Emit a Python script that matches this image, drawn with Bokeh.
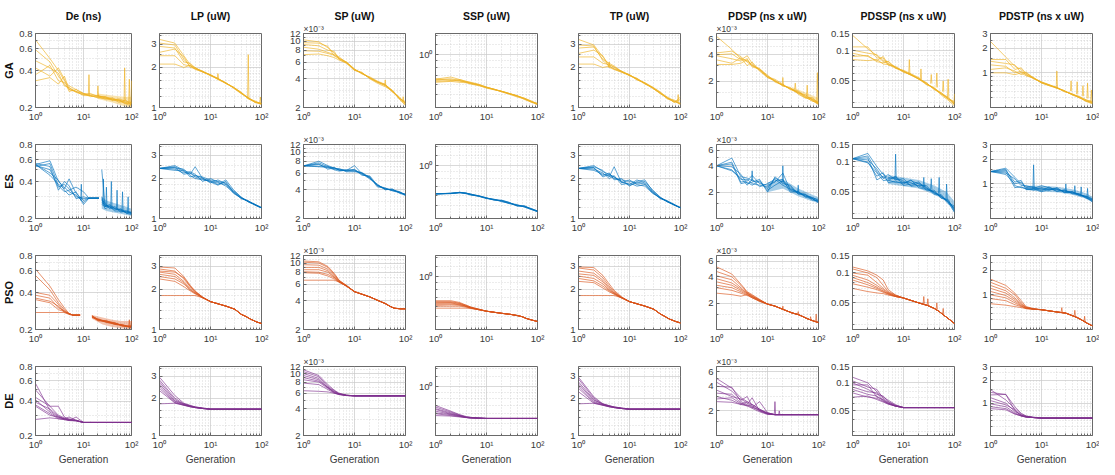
from bokeh.plotting import figure
from bokeh.layouts import gridplot
from bokeh.models import FixedTicker, CustomJSTickFormatter, Title
from bokeh.embed import file_html
from bokeh.resources import INLINE

nan = float("nan")
FONT = "Liberation Sans"

ALGOS = ["GA", "ES", "PSO", "DE"]
METRICS = ["De (ns)", "LP (uW)", "SP (uW)", "SSP (uW)", "TP (uW)",
           "PDSP (ns x uW)", "PDSSP (ns x uW)", "PDSTP (ns x uW)"]
COLORS = ["#EDB120", "#0072BD", "#D95319", "#7E2F8E"]

X_TICKS = [1, 10, 100]
X_TICK_LABELS = ["10⁰", "10¹", "10²"]
X_MINOR = [2, 3, 4, 5, 6, 7, 8, 9, 20, 30, 40, 50, 60, 70, 80, 90]

# SP and PDSP values are stored in units of 1e-3
Y_RANGES = [(0.2, 0.8), (1, 3.6), (2, 12), (0.4, 1.45), (1, 3.6), (1, 7), (0.027, 0.15), (0.38, 3)]
Y_TICKS = [[0.2, 0.4, 0.6, 0.8], [1, 2, 3], [2, 4, 6, 8, 10, 12], [1], [1, 2, 3],
           [2, 4, 6], [0.05, 0.1, 0.15], [1, 2, 3]]
Y_TICK_LABELS = [["0.2", "0.4", "0.6", "0.8"], ["1", "2", "3"], ["2", "4", "6", "8", "10", "12"],
                 ["10⁰"], ["1", "2", "3"], ["2", "4", "6"], ["0.05", "0.1", "0.15"], ["1", "2", "3"]]
Y_MINOR = [[0.3, 0.5, 0.7], [1.2, 1.4, 1.6, 1.8, 2.5, 3.5], [3, 5, 7, 9, 11],
           [0.5, 0.6, 0.7, 0.8, 0.9, 1.2, 1.4], [1.2, 1.4, 1.6, 1.8, 2.5, 3.5],
           [1.5, 3, 5], [0.03, 0.04, 0.06, 0.07, 0.08, 0.09], [0.5, 0.6, 0.7, 0.8, 0.9, 1.5, 2.5]]
Y_EXPONENT = ["", "", "×10⁻³", "", "", "×10⁻³", "", ""]

# generation grids
X_A = [1, 2, 3, 4, 5, 7, 10, 14, 20, 28, 40, 55, 75, 100]
X_E = [1, 2, 3, 4, 5, 7, 10]
X_T = [14, 20, 30, 40, 50, 60, 80, 100]

# ---------------- GA ----------------
GA_DE = [
    [0.71, 0.50, 0.40, 0.33, 0.30, 0.28, 0.26, 0.255, 0.25, 0.24, 0.235, 0.23, 0.22, 0.21],
    [0.59, 0.47, 0.36, 0.31, 0.28, 0.27, 0.255, 0.26, 0.245, 0.245, 0.23, 0.235, 0.225, 0.22],
    [0.48, 0.42, 0.38, 0.30, 0.29, 0.27, 0.25, 0.25, 0.24, 0.235, 0.24, 0.225, 0.215, 0.205],
    [0.42, 0.36, 0.42, 0.34, 0.27, 0.28, 0.26, 0.245, 0.25, 0.24, 0.23, 0.23, 0.22, 0.215],
    [0.37, 0.44, 0.33, 0.32, 0.29, 0.265, 0.255, 0.25, 0.24, 0.245, 0.235, 0.22, 0.23, 0.21],
    [0.33, 0.35, 0.31, 0.36, 0.28, 0.27, 0.26, 0.25, 0.245, 0.235, 0.23, 0.23, 0.215, 0.22]]
GA_DE_SPIKES = ([13, 20, 72, 90, 100], [0.255, 0.245, 0.225, 0.22, 0.21], [0.37, 0.30, 0.42, 0.34, 0.33])
GA_DE_BAND = ([20, 40, 70, 100], [0.235, 0.22, 0.205, 0.2], [0.26, 0.25, 0.245, 0.245])

GA_LP = [
    [3.25, 3.05, 2.45, 2.1, 1.98, 1.88, 1.75, 1.65, 1.52, 1.42, 1.30, 1.18, 1.10, 1.06],
    [3.05, 2.95, 2.3, 2.05, 1.95, 1.85, 1.74, 1.63, 1.53, 1.41, 1.28, 1.17, 1.09, 1.07],
    [2.88, 2.8, 2.2, 2.15, 1.99, 1.86, 1.76, 1.66, 1.51, 1.43, 1.29, 1.16, 1.11, 1.05],
    [2.6, 2.75, 2.4, 2.0, 1.96, 1.87, 1.73, 1.64, 1.54, 1.40, 1.27, 1.19, 1.10, 1.08],
    [2.45, 2.45, 2.1, 2.05, 2.0, 1.84, 1.77, 1.62, 1.52, 1.42, 1.30, 1.17, 1.12, 1.06],
    [2.12, 2.12, 2.0, 2.08, 1.93, 1.86, 1.75, 1.65, 1.53, 1.41, 1.28, 1.18, 1.09, 1.07]]
GA_LP_SPIKES = ([55, 14, 95], [1.17, 1.65, 1.07], [2.5, 1.8, 1.2])

GA_SP = [
    [10.3, 9.8, 8.5, 7.5, 6.6, 5.9, 5.0, 4.6, 4.1, 3.7, 3.4, 3.0, 2.5, 2.15],
    [9.6, 9.5, 8.8, 7.0, 6.5, 6.0, 5.1, 4.5, 4.2, 3.8, 3.5, 2.9, 2.6, 2.2],
    [9.2, 8.9, 8.0, 7.8, 6.4, 5.8, 4.9, 4.7, 4.0, 3.6, 3.3, 3.0, 2.45, 2.1],
    [8.6, 8.2, 7.6, 7.2, 6.8, 5.9, 5.0, 4.55, 4.1, 3.75, 3.45, 3.05, 2.5, 2.25],
    [7.9, 7.8, 7.4, 7.1, 6.6, 6.0, 5.05, 4.6, 4.05, 3.7, 3.4, 2.95, 2.55, 2.2],
    [7.2, 7.3, 7.0, 6.7, 6.3, 5.9, 4.95, 4.6, 4.1, 3.7, 3.5, 3.0, 2.5, 2.3]]
GA_SP_SPIKES = ([40, 90], [3.4, 2.3], [3.9, 2.6])

GA_SSP = [
    [0.66, 0.64, 0.65, 0.63, 0.62, 0.60, 0.57, 0.55, 0.53, 0.51, 0.49, 0.47, 0.45, 0.425],
    [0.65, 0.66, 0.64, 0.62, 0.61, 0.59, 0.565, 0.545, 0.53, 0.51, 0.49, 0.465, 0.44, 0.42],
    [0.64, 0.65, 0.63, 0.625, 0.61, 0.595, 0.57, 0.55, 0.525, 0.505, 0.485, 0.47, 0.445, 0.43],
    [0.63, 0.635, 0.64, 0.62, 0.605, 0.59, 0.56, 0.545, 0.53, 0.51, 0.49, 0.46, 0.44, 0.425],
    [0.62, 0.63, 0.62, 0.615, 0.60, 0.585, 0.565, 0.55, 0.525, 0.505, 0.48, 0.465, 0.445, 0.42],
    [0.655, 0.68, 0.65, 0.63, 0.615, 0.595, 0.57, 0.55, 0.53, 0.51, 0.49, 0.47, 0.44, 0.43]]

GA_TP = [
    [3.25, 2.95, 2.4, 2.1, 2.0, 1.85, 1.75, 1.63, 1.5, 1.42, 1.3, 1.2, 1.12, 1.05],
    [2.95, 2.9, 2.25, 2.05, 1.95, 1.88, 1.73, 1.65, 1.52, 1.4, 1.28, 1.18, 1.1, 1.08],
    [2.8, 2.85, 2.3, 2.15, 2.05, 1.86, 1.77, 1.62, 1.53, 1.43, 1.31, 1.17, 1.14, 1.06],
    [2.55, 2.7, 2.45, 2.0, 1.93, 1.84, 1.74, 1.66, 1.51, 1.41, 1.27, 1.19, 1.09, 1.2],
    [2.4, 2.4, 2.15, 2.1, 2.02, 1.87, 1.76, 1.61, 1.54, 1.42, 1.29, 1.16, 1.12, 1.07],
    [2.12, 2.12, 2.0, 2.05, 1.94, 1.85, 1.75, 1.64, 1.52, 1.40, 1.28, 1.18, 1.1, 1.15]]
GA_TP_SPIKES = ([4, 90], [2.0, 1.1], [2.2, 1.25])

GA_PDSP = [
    [6.5, 4.6, 3.6, 3.4, 3.1, 2.7, 2.3, 2.0, 1.8, 1.65, 1.45, 1.3, 1.2, 1.08],
    [4.2, 4.4, 3.8, 3.3, 3.0, 2.8, 2.25, 2.1, 1.85, 1.6, 1.5, 1.35, 1.25, 1.1],
    [4.0, 4.1, 3.5, 3.9, 3.2, 2.6, 2.2, 2.05, 1.75, 1.7, 1.42, 1.28, 1.3, 1.12],
    [3.9, 3.6, 3.4, 3.6, 2.9, 2.75, 2.35, 1.95, 1.8, 1.62, 1.55, 1.33, 1.18, 1.15],
    [3.5, 3.2, 3.7, 3.0, 3.3, 2.65, 2.25, 2.02, 1.78, 1.66, 1.47, 1.4, 1.22, 1.1],
    [3.1, 3.1, 3.2, 3.5, 3.0, 2.7, 2.2, 2.0, 1.82, 1.63, 1.5, 1.3, 1.25, 1.14]]
GA_PDSP_SPIKES = ([20, 35, 60, 95], [1.8, 1.6, 1.35, 1.12], [2.2, 1.9, 1.8, 2.5])
GA_PDSP_BAND = ([30, 60, 100], [1.55, 1.3, 1.07], [1.72, 1.45, 1.28])

GA_PDSSP = [
    [0.144, 0.105, 0.09, 0.078, 0.075, 0.068, 0.063, 0.058, 0.053, 0.047, 0.042, 0.037, 0.033, 0.029],
    [0.11, 0.11, 0.085, 0.085, 0.072, 0.07, 0.062, 0.057, 0.052, 0.048, 0.041, 0.038, 0.034, 0.03],
    [0.102, 0.095, 0.092, 0.08, 0.078, 0.067, 0.064, 0.059, 0.054, 0.046, 0.043, 0.036, 0.032, 0.028],
    [0.095, 0.088, 0.08, 0.088, 0.074, 0.069, 0.061, 0.058, 0.052, 0.047, 0.042, 0.038, 0.033, 0.031],
    [0.088, 0.09, 0.078, 0.076, 0.079, 0.068, 0.063, 0.057, 0.053, 0.048, 0.041, 0.037, 0.034, 0.029],
    [0.082, 0.08, 0.082, 0.074, 0.073, 0.067, 0.062, 0.058, 0.052, 0.046, 0.042, 0.037, 0.033, 0.03]]
GA_PDSSP_SPIKES = ([13, 22, 35, 45, 60, 75, 100],
                   [0.058, 0.052, 0.047, 0.043, 0.039, 0.034, 0.029],
                   [0.082, 0.066, 0.058, 0.06, 0.05, 0.052, 0.037])

GA_PDSTP = [
    [2.4, 1.55, 1.2, 1.1, 0.95, 0.85, 0.77, 0.71, 0.66, 0.6, 0.55, 0.5, 0.46, 0.43],
    [1.45, 1.45, 1.1, 1.15, 0.98, 0.88, 0.76, 0.7, 0.65, 0.61, 0.54, 0.51, 0.47, 0.44],
    [1.38, 1.3, 1.25, 1.0, 1.02, 0.86, 0.78, 0.72, 0.66, 0.59, 0.56, 0.5, 0.45, 0.42],
    [1.25, 1.2, 1.0, 1.05, 0.94, 0.87, 0.75, 0.7, 0.67, 0.6, 0.55, 0.52, 0.47, 0.45],
    [1.1, 1.15, 1.05, 0.95, 1.0, 0.85, 0.77, 0.71, 0.65, 0.61, 0.54, 0.5, 0.46, 0.43],
    [1.0, 1.0, 0.95, 1.0, 0.92, 0.86, 0.76, 0.72, 0.66, 0.6, 0.55, 0.51, 0.45, 0.44]]
GA_PDSTP_SPIKES = ([20, 38, 50, 65, 80, 95], [0.66, 0.6, 0.55, 0.52, 0.49, 0.45],
                   [1.05, 0.8, 0.78, 0.7, 0.75, 0.62])

# ---------------- ES ----------------
ES_DE_X = [1, 2, 3, 4, 5, 7, 10, 13, 21, 22, 24, 28, 35, 45, 60, 80, 100]
ES_DE = [
    [0.55, 0.59, 0.40, 0.36, 0.33, 0.31, 0.27, 0.293, 0.293, nan, 0.30, 0.25, 0.26, 0.24, 0.235, 0.23, 0.225],
    [0.54, 0.50, 0.36, 0.38, 0.35, 0.30, 0.29, 0.293, 0.293, nan, 0.27, 0.26, 0.245, 0.25, 0.23, 0.225, 0.22],
    [0.55, 0.47, 0.41, 0.34, 0.31, 0.33, 0.26, 0.293, 0.293, nan, 0.50, 0.255, 0.25, 0.235, 0.24, 0.22, 0.225],
    [0.56, 0.53, 0.34, 0.40, 0.37, 0.29, 0.30, 0.293, 0.293, nan, 0.28, 0.27, 0.24, 0.245, 0.225, 0.23, 0.22],
    [0.55, 0.45, 0.38, 0.35, 0.42, 0.32, 0.28, 0.293, 0.293, nan, 0.26, 0.25, 0.255, 0.24, 0.235, 0.22, 0.215],
    [0.53, 0.56, 0.37, 0.33, 0.34, 0.36, 0.33, 0.293, 0.293, nan, 0.29, 0.24, 0.25, 0.23, 0.23, 0.225, 0.22]]
ES_DE_SPIKES = ([9, 26, 30, 38, 50, 65, 85], [0.28, 0.26, 0.25, 0.245, 0.24, 0.23, 0.225],
                [0.38, 0.42, 0.36, 0.40, 0.34, 0.33, 0.30])
ES_DE_BAND = ([24, 30, 40, 55, 75, 100], [0.24, 0.23, 0.225, 0.22, 0.215, 0.21],
              [0.30, 0.28, 0.27, 0.26, 0.25, 0.24])

ES_LP = [
    [2.38, 2.5, 2.3, 2.2, 2.1, 2.05, 1.95, 1.9, 1.85, 1.6, 1.43, 1.34, 1.27, 1.2],
    [2.38, 2.45, 2.25, 2.15, 2.45, 2.0, 1.9, 1.85, 1.8, 1.55, 1.42, 1.35, 1.27, 1.21],
    [2.38, 2.4, 2.35, 2.1, 2.0, 1.95, 1.92, 1.8, 1.95, 1.65, 1.45, 1.33, 1.26, 1.2],
    [2.38, 2.35, 2.2, 2.25, 2.15, 1.9, 2.0, 1.88, 1.75, 1.58, 1.41, 1.35, 1.28, 1.2],
    [2.38, 2.3, 2.3, 2.05, 2.1, 2.02, 1.85, 1.95, 1.82, 1.62, 1.44, 1.34, 1.27, 1.21],
    [2.38, 2.42, 2.15, 2.2, 2.05, 1.98, 1.88, 1.78, 1.9, 1.57, 1.43, 1.36, 1.26, 1.2]]

ES_SP = [
    [7.15, 8.0, 7.2, 6.8, 6.6, 6.5, 6.4, 6.0, 5.3, 4.5, 4.1, 4.0, 3.8, 3.55],
    [7.15, 7.7, 7.0, 6.7, 6.5, 6.3, 6.6, 5.8, 5.5, 4.4, 4.2, 3.9, 3.75, 3.6],
    [7.15, 7.4, 6.8, 6.9, 6.4, 6.4, 7.2, 5.9, 5.2, 4.6, 4.0, 4.1, 3.7, 3.5],
    [7.15, 7.1, 7.1, 6.6, 6.7, 6.2, 6.2, 6.1, 5.4, 4.3, 4.15, 3.95, 3.85, 3.55],
    [7.15, 7.0, 6.9, 6.5, 6.3, 6.45, 6.5, 5.7, 5.6, 4.5, 4.05, 4.05, 3.75, 3.6],
    [7.15, 7.5, 6.6, 6.8, 6.5, 6.35, 6.3, 6.0, 5.35, 4.45, 4.1, 3.95, 3.8, 3.5]]

ES_SSP = [
    [0.614, 0.62, 0.63, 0.62, 0.61, 0.595, 0.57, 0.555, 0.545, 0.525, 0.50, 0.495, 0.475, 0.455],
    [0.614, 0.618, 0.625, 0.625, 0.605, 0.59, 0.565, 0.56, 0.54, 0.52, 0.505, 0.49, 0.47, 0.452],
    [0.614, 0.622, 0.628, 0.615, 0.60, 0.592, 0.575, 0.55, 0.55, 0.53, 0.495, 0.50, 0.472, 0.455],
    [0.614, 0.616, 0.632, 0.62, 0.612, 0.588, 0.568, 0.558, 0.535, 0.522, 0.51, 0.488, 0.468, 0.45],
    [0.614, 0.62, 0.626, 0.618, 0.608, 0.594, 0.57, 0.552, 0.548, 0.528, 0.50, 0.492, 0.476, 0.456],
    [0.614, 0.619, 0.63, 0.622, 0.603, 0.591, 0.572, 0.556, 0.542, 0.518, 0.503, 0.496, 0.47, 0.452]]

ES_TP = [
    [2.38, 2.5, 2.25, 2.15, 2.05, 1.9, 1.8, 1.95, 1.85, 1.6, 1.42, 1.34, 1.27, 1.2],
    [2.38, 2.45, 2.3, 2.05, 2.45, 1.85, 1.95, 1.8, 1.75, 1.55, 1.43, 1.35, 1.26, 1.21],
    [2.38, 2.4, 2.1, 2.2, 1.95, 2.0, 1.75, 1.9, 1.95, 1.62, 1.44, 1.33, 1.27, 1.2],
    [2.38, 2.35, 2.2, 2.0, 2.1, 1.8, 1.85, 1.75, 1.8, 1.58, 1.41, 1.36, 1.28, 1.2],
    [2.38, 2.3, 2.15, 2.1, 2.0, 1.95, 1.9, 1.85, 1.9, 1.65, 1.45, 1.34, 1.26, 1.21],
    [2.38, 2.42, 2.05, 2.15, 2.05, 1.88, 1.78, 1.85, 1.82, 1.57, 1.43, 1.35, 1.27, 1.2]]

ES_PDSP = [
    [4.0, 4.9, 3.0, 2.9, 2.7, 2.6, 2.2, 2.9, 2.6, 2.2, 2.0, 1.8, 1.75, 1.6],
    [4.0, 4.4, 2.6, 2.7, 3.1, 2.5, 2.4, 2.6, 3.3, 2.1, 1.95, 1.9, 1.7, 1.55],
    [4.0, 3.9, 3.2, 2.5, 2.6, 2.8, 2.0, 3.0, 2.5, 2.4, 1.9, 1.85, 1.72, 1.65],
    [4.0, 3.6, 2.8, 2.8, 2.5, 2.4, 2.3, 2.7, 2.8, 2.0, 2.05, 1.75, 1.68, 1.55],
    [4.0, 4.2, 2.5, 2.6, 2.4, 2.7, 2.1, 2.4, 2.7, 2.3, 1.92, 1.88, 1.62, 1.6],
    [4.0, 3.5, 2.9, 2.4, 2.8, 2.3, 2.5, 2.8, 2.4, 2.15, 2.0, 1.8, 1.7, 1.5]]
ES_PDSP_SPIKES = ([5, 20, 40], [2.7, 2.6, 1.95], [3.5, 4.0, 2.4])
ES_PDSP_BAND = ([10, 20, 40, 70, 100], [2.0, 2.2, 1.8, 1.6, 1.5], [2.6, 2.8, 2.2, 1.9, 1.75])

ES_PDSSP = [
    [0.108, 0.122, 0.09, 0.075, 0.07, 0.068, 0.062, 0.065, 0.06, 0.055, 0.05, 0.045, 0.04, 0.034],
    [0.108, 0.115, 0.08, 0.07, 0.065, 0.072, 0.058, 0.06, 0.063, 0.052, 0.052, 0.043, 0.042, 0.032],
    [0.108, 0.105, 0.085, 0.068, 0.075, 0.066, 0.068, 0.057, 0.058, 0.058, 0.048, 0.047, 0.039, 0.036],
    [0.108, 0.10, 0.072, 0.078, 0.062, 0.064, 0.06, 0.066, 0.055, 0.053, 0.05, 0.044, 0.041, 0.033],
    [0.108, 0.11, 0.066, 0.072, 0.068, 0.07, 0.064, 0.058, 0.061, 0.056, 0.047, 0.046, 0.038, 0.035],
    [0.108, 0.098, 0.078, 0.065, 0.066, 0.062, 0.062, 0.062, 0.057, 0.054, 0.049, 0.045, 0.04, 0.031]]
ES_PDSSP_SPIKES = ([7, 25, 35, 50, 70], [0.066, 0.056, 0.053, 0.048, 0.042], [0.12, 0.07, 0.068, 0.07, 0.06])
ES_PDSSP_BAND = ([5, 10, 20, 40, 70, 100], [0.06, 0.057, 0.054, 0.047, 0.04, 0.031],
                 [0.074, 0.07, 0.066, 0.058, 0.05, 0.04])

ES_PDSTP = [
    [1.41, 1.55, 1.2, 1.0, 0.9, 0.88, 0.95, 0.9, 0.85, 0.82, 0.8, 0.74, 0.7, 0.65],
    [1.41, 1.45, 1.05, 1.1, 0.85, 0.86, 0.9, 0.85, 0.88, 0.8, 0.78, 0.76, 0.68, 0.62],
    [1.41, 1.35, 1.15, 0.95, 0.95, 0.9, 0.82, 0.92, 0.8, 0.85, 0.76, 0.73, 0.71, 0.66],
    [1.41, 1.5, 0.95, 0.9, 0.88, 0.84, 0.88, 0.83, 0.9, 0.78, 0.81, 0.72, 0.69, 0.6],
    [1.41, 1.3, 1.0, 1.05, 0.92, 0.92, 0.85, 0.88, 0.82, 0.83, 0.77, 0.75, 0.67, 0.64],
    [1.41, 1.4, 0.9, 0.92, 0.86, 0.87, 0.8, 0.86, 0.86, 0.79, 0.79, 0.74, 0.7, 0.63]]
ES_PDSTP_SPIKES = ([7, 30, 45, 60, 80], [0.87, 0.8, 0.78, 0.74, 0.69], [1.7, 1.0, 0.95, 0.92, 0.88])
ES_PDSTP_BAND = ([5, 10, 20, 40, 70, 100], [0.84, 0.8, 0.79, 0.74, 0.67, 0.6],
                 [0.95, 0.95, 0.92, 0.86, 0.78, 0.7])

# ---------------- PSO ----------------
PSO_DE_X = [1, 2, 3, 4, 5, 6, 8.5, 9, 15, 20, 30, 45, 65, 100]
PSO_DE = [
    [0.62, 0.45, 0.35, 0.30, 0.27, 0.262, 0.262, nan, 0.26, 0.24, 0.235, 0.225, 0.215, 0.21],
    [0.55, 0.42, 0.33, 0.29, 0.265, 0.262, 0.262, nan, 0.25, 0.245, 0.23, 0.22, 0.22, 0.205],
    [0.40, 0.38, 0.32, 0.28, 0.268, 0.262, 0.262, nan, 0.255, 0.235, 0.232, 0.228, 0.212, 0.215],
    [0.38, 0.36, 0.30, 0.285, 0.27, 0.262, 0.262, nan, 0.258, 0.242, 0.228, 0.222, 0.218, 0.208],
    [0.36, 0.34, 0.31, 0.275, 0.265, 0.262, 0.262, nan, 0.252, 0.238, 0.236, 0.22, 0.214, 0.212],
    [0.35, 0.33, 0.29, 0.28, 0.268, 0.262, 0.262, nan, 0.256, 0.24, 0.23, 0.225, 0.216, 0.206],
    [0.275, 0.275, 0.275, 0.275, 0.27, 0.262, 0.262, nan, 0.255, 0.24, 0.232, 0.224, 0.216, 0.21]]
PSO_DE_SPIKES = ([90, 100], [0.21, 0.21], [0.24, 0.235])
PSO_DE_BAND = ([15, 25, 40, 60, 100], [0.245, 0.22, 0.21, 0.205, 0.2], [0.262, 0.25, 0.24, 0.235, 0.235])

PSO_LP_EARLY = [
    [2.95, 2.9, 2.5, 2.15, 1.95, 1.75, 1.62], [2.85, 2.75, 2.4, 2.1, 1.92, 1.75, 1.62],
    [2.7, 2.6, 2.3, 2.05, 1.9, 1.74, 1.62], [2.6, 2.5, 2.25, 2.0, 1.88, 1.74, 1.62],
    [2.5, 2.4, 2.2, 1.98, 1.87, 1.73, 1.62], [2.4, 2.3, 2.1, 1.95, 1.85, 1.73, 1.62],
    [2.75, 2.7, 2.45, 2.12, 1.93, 1.75, 1.62], [1.8, 1.8, 1.8, 1.8, 1.8, 1.73, 1.62]]
PSO_LP_TAIL = [1.56, 1.5, 1.42, 1.3, 1.25, 1.2, 1.14, 1.11]

PSO_SP_EARLY = [
    [10.5, 10.3, 9.2, 7.8, 6.6, 5.8, 5.0], [10.2, 10.0, 9.0, 7.6, 6.5, 5.8, 5.0],
    [9.6, 9.5, 8.6, 7.4, 6.5, 5.75, 5.0], [9.0, 9.0, 8.3, 7.2, 6.4, 5.75, 5.0],
    [8.5, 8.5, 8.0, 7.1, 6.4, 5.7, 5.0], [8.1, 8.0, 7.6, 7.0, 6.3, 5.7, 5.0],
    [7.9, 7.8, 7.3, 6.8, 6.3, 5.7, 5.0], [6.6, 6.6, 6.6, 6.6, 6.3, 5.7, 5.0]]
PSO_SP_TAIL = [4.7, 4.4, 4.0, 3.75, 3.5, 3.35, 3.3, 3.3]

PSO_SSP_EARLY = [
    [0.66, 0.66, 0.64, 0.61, 0.59, 0.57, 0.55], [0.65, 0.65, 0.63, 0.61, 0.59, 0.57, 0.55],
    [0.64, 0.64, 0.63, 0.6, 0.585, 0.57, 0.55], [0.63, 0.635, 0.62, 0.6, 0.585, 0.565, 0.55],
    [0.62, 0.625, 0.615, 0.6, 0.58, 0.565, 0.55], [0.61, 0.615, 0.61, 0.595, 0.58, 0.565, 0.55],
    [0.60, 0.60, 0.60, 0.59, 0.58, 0.565, 0.55], [0.58, 0.58, 0.58, 0.58, 0.575, 0.565, 0.55]]
PSO_SSP_TAIL = [0.54, 0.53, 0.52, 0.51, 0.50, 0.485, 0.47, 0.46]

PSO_TP_EARLY = [
    [2.95, 2.92, 2.55, 2.2, 1.97, 1.76, 1.62], [2.9, 2.8, 2.45, 2.12, 1.93, 1.75, 1.62],
    [2.75, 2.65, 2.35, 2.06, 1.9, 1.74, 1.62], [2.62, 2.55, 2.28, 2.02, 1.88, 1.74, 1.62],
    [2.52, 2.42, 2.2, 1.98, 1.87, 1.73, 1.62], [2.42, 2.32, 2.12, 1.95, 1.85, 1.73, 1.62],
    [2.3, 2.25, 2.05, 1.92, 1.84, 1.72, 1.62], [1.8, 1.8, 1.8, 1.8, 1.8, 1.73, 1.62]]
PSO_TP_TAIL = [1.56, 1.5, 1.42, 1.31, 1.25, 1.2, 1.15, 1.12]

PSO_PDSP_EARLY = [
    [5.2, 4.3, 3.3, 2.7, 2.5, 2.2, 1.95], [4.6, 4.0, 3.2, 2.65, 2.45, 2.2, 1.95],
    [4.1, 3.7, 3.0, 2.6, 2.4, 2.15, 1.95], [3.8, 3.4, 2.9, 2.6, 2.4, 2.15, 1.95],
    [3.5, 3.2, 2.8, 2.55, 2.35, 2.15, 1.95], [3.2, 3.0, 2.7, 2.5, 2.35, 2.1, 1.95],
    [3.0, 2.8, 2.6, 2.45, 2.3, 2.1, 1.95], [2.6, 2.5, 2.4, 2.5, 2.3, 2.1, 1.95]]
PSO_PDSP_TAIL = [1.85, 1.7, 1.55, 1.48, 1.4, 1.33, 1.25, 1.2]
PSO_PDSP_SPIKES = ([20, 40, 70, 90], [1.7, 1.48, 1.28, 1.22], [1.85, 1.6, 1.4, 1.5])

PSO_PDSSP_EARLY = [
    [0.115, 0.105, 0.095, 0.085, 0.068, 0.06, 0.056], [0.11, 0.1, 0.09, 0.075, 0.065, 0.06, 0.056],
    [0.1, 0.095, 0.08, 0.07, 0.064, 0.059, 0.056], [0.095, 0.085, 0.075, 0.068, 0.063, 0.059, 0.056],
    [0.09, 0.08, 0.072, 0.066, 0.062, 0.058, 0.056], [0.085, 0.076, 0.07, 0.065, 0.062, 0.058, 0.056],
    [0.078, 0.072, 0.068, 0.064, 0.061, 0.058, 0.056], [0.07, 0.065, 0.063, 0.062, 0.06, 0.058, 0.056]]
PSO_PDSSP_TAIL = [0.053, 0.05, 0.047, 0.044, 0.041, 0.038, 0.034, 0.031]
PSO_PDSSP_SPIKES = ([25, 30, 45, 60], [0.049, 0.047, 0.043, 0.038], [0.058, 0.055, 0.05, 0.044])

PSO_PDSTP_EARLY = [
    [1.55, 1.3, 1.05, 0.85, 0.72, 0.68, 0.66], [1.42, 1.2, 1.0, 0.8, 0.71, 0.68, 0.66],
    [1.3, 1.12, 0.92, 0.78, 0.7, 0.67, 0.66], [1.2, 1.05, 0.88, 0.76, 0.7, 0.67, 0.66],
    [1.1, 0.98, 0.84, 0.74, 0.69, 0.67, 0.66], [1.0, 0.92, 0.8, 0.73, 0.69, 0.67, 0.66],
    [0.9, 0.85, 0.76, 0.72, 0.68, 0.67, 0.66], [0.78, 0.75, 0.72, 0.7, 0.68, 0.67, 0.66]]
PSO_PDSTP_TAIL = [0.64, 0.62, 0.6, 0.56, 0.53, 0.5, 0.45, 0.42]
PSO_PDSTP_SPIKES = ([25, 45, 70], [0.61, 0.55, 0.47], [0.7, 0.65, 0.55])

# ---------------- DE ----------------
DE_DE_EARLY = [
    [0.57, 0.33, 0.29, 0.28, 0.275, 0.27, 0.26], [0.5, 0.36, 0.3, 0.285, 0.28, 0.272, 0.26],
    [0.43, 0.36, 0.36, 0.29, 0.275, 0.27, 0.26], [0.41, 0.32, 0.285, 0.28, 0.27, 0.29, 0.26],
    [0.39, 0.34, 0.295, 0.28, 0.29, 0.272, 0.26], [0.37, 0.31, 0.28, 0.275, 0.272, 0.268, 0.26],
    [0.36, 0.3, 0.29, 0.278, 0.274, 0.27, 0.26], [0.276, 0.285, 0.28, 0.275, 0.27, 0.268, 0.26]]
DE_DE_TAIL = [0.26, 0.26, 0.26, 0.26, 0.26, 0.26, 0.26, 0.26]

DE_LP_EARLY = [
    [2.95, 2.1, 1.82, 1.75, 1.7, 1.67, 1.63], [2.8, 2.0, 1.8, 1.74, 1.7, 1.66, 1.63],
    [2.7, 1.95, 1.78, 1.72, 1.69, 1.66, 1.63], [2.6, 1.9, 1.8, 1.73, 1.69, 1.65, 1.63],
    [2.5, 1.88, 1.77, 1.72, 1.68, 1.65, 1.63], [2.4, 1.85, 1.76, 1.71, 1.68, 1.65, 1.63],
    [2.3, 1.83, 1.75, 1.7, 1.68, 1.65, 1.63], [1.8, 1.82, 1.76, 1.71, 1.68, 1.65, 1.63]]
DE_LP_TAIL = [1.63, 1.63, 1.63, 1.63, 1.63, 1.63, 1.63, 1.63]

DE_SP_EARLY = [
    [11.0, 9.5, 7.5, 6.5, 6.0, 5.7, 5.6], [10.5, 9.2, 7.2, 6.4, 5.9, 5.7, 5.6],
    [10.0, 8.8, 7.0, 6.3, 5.9, 5.7, 5.6], [9.5, 8.5, 6.9, 6.2, 5.9, 5.65, 5.6],
    [9.0, 8.2, 7.0, 6.1, 5.85, 5.65, 5.6], [8.5, 8.0, 6.8, 6.1, 5.8, 5.65, 5.6],
    [7.8, 7.5, 6.6, 6.0, 5.8, 5.65, 5.6], [6.4, 6.3, 6.2, 6.0, 5.8, 5.65, 5.6]]
DE_SP_TAIL = [5.6, 5.6, 5.6, 5.6, 5.6, 5.6, 5.6, 5.6]

DE_SSP_EARLY = [
    [0.70, 0.63, 0.59, 0.57, 0.56, 0.555, 0.55], [0.68, 0.62, 0.585, 0.565, 0.56, 0.555, 0.55],
    [0.66, 0.61, 0.58, 0.565, 0.56, 0.555, 0.55], [0.65, 0.60, 0.58, 0.56, 0.555, 0.552, 0.55],
    [0.63, 0.595, 0.575, 0.56, 0.555, 0.552, 0.55], [0.61, 0.59, 0.57, 0.56, 0.555, 0.552, 0.55],
    [0.6, 0.58, 0.57, 0.56, 0.555, 0.552, 0.55], [0.58, 0.575, 0.565, 0.558, 0.555, 0.552, 0.55]]
DE_SSP_TAIL = [0.55, 0.55, 0.55, 0.55, 0.55, 0.55, 0.55, 0.55]

DE_TP_EARLY = [
    [2.95, 2.05, 1.8, 1.74, 1.7, 1.67, 1.63], [2.85, 2.0, 1.79, 1.73, 1.7, 1.66, 1.63],
    [2.7, 1.95, 1.78, 1.72, 1.69, 1.66, 1.63], [2.6, 1.92, 1.8, 1.74, 1.69, 1.65, 1.63],
    [2.5, 1.88, 1.77, 1.72, 1.68, 1.65, 1.63], [2.4, 1.85, 1.76, 1.71, 1.68, 1.65, 1.63],
    [2.25, 1.82, 1.75, 1.7, 1.68, 1.65, 1.63], [1.8, 1.82, 1.76, 1.71, 1.68, 1.65, 1.63]]
DE_TP_TAIL = [1.63, 1.63, 1.63, 1.63, 1.63, 1.63, 1.63, 1.63]

DE_PDSP_EARLY = [
    [5.0, 3.8, 2.9, 2.6, 2.4, 2.1, 1.9], [4.5, 3.5, 2.7, 3.0, 2.3, 2.05, 1.88],
    [4.0, 3.9, 2.6, 2.4, 2.9, 2.0, 1.85], [3.6, 3.0, 2.8, 2.5, 2.2, 2.6, 1.9],
    [3.3, 3.2, 2.5, 2.3, 2.4, 2.1, 1.85], [3.0, 2.7, 2.4, 2.6, 2.25, 2.0, 1.82],
    [2.8, 2.9, 2.45, 2.35, 2.2, 2.05, 1.86], [2.6, 2.55, 2.4, 2.3, 2.15, 1.95, 1.82]]
DE_PDSP_TAIL = [1.8, 1.8, 1.8, 1.8, 1.8, 1.8, 1.8, 1.8]
DE_PDSP_SPIKES = ([14, 17], [1.8, 1.8], [2.6, 2.0])

DE_PDSSP_EARLY = [
    [0.115, 0.1, 0.08, 0.07, 0.065, 0.058, 0.054], [0.105, 0.09, 0.085, 0.068, 0.062, 0.057, 0.054],
    [0.1, 0.085, 0.075, 0.072, 0.063, 0.057, 0.054], [0.095, 0.095, 0.07, 0.066, 0.061, 0.056, 0.054],
    [0.09, 0.08, 0.078, 0.065, 0.06, 0.056, 0.054], [0.085, 0.075, 0.072, 0.064, 0.06, 0.056, 0.054],
    [0.078, 0.07, 0.068, 0.063, 0.059, 0.056, 0.054], [0.07, 0.072, 0.066, 0.062, 0.059, 0.056, 0.054]]
DE_PDSSP_TAIL = [0.054, 0.054, 0.054, 0.054, 0.054, 0.054, 0.054, 0.054]

DE_PDSTP_EARLY = [
    [1.5, 1.1, 0.85, 0.72, 0.68, 0.66, 0.64], [1.38, 1.3, 0.8, 0.7, 0.67, 0.65, 0.64],
    [1.28, 1.3, 0.9, 0.74, 0.68, 0.65, 0.64], [1.18, 1.0, 0.78, 0.7, 0.67, 0.65, 0.64],
    [1.08, 0.95, 0.82, 0.69, 0.66, 0.65, 0.64], [0.98, 0.9, 0.75, 0.68, 0.66, 0.65, 0.64],
    [0.9, 0.85, 0.73, 0.68, 0.66, 0.65, 0.64], [0.85, 0.82, 0.72, 0.69, 0.66, 0.65, 0.64]]
DE_PDSTP_TAIL = [0.64, 0.64, 0.64, 0.64, 0.64, 0.64, 0.64, 0.64]


def joined(early, tail):
    return X_E + X_T, [e + tail for e in early]


NONE = ([], [], [])
PANELS = [
    [(X_A, GA_DE, GA_DE_SPIKES, GA_DE_BAND), (X_A, GA_LP, GA_LP_SPIKES, NONE),
     (X_A, GA_SP, GA_SP_SPIKES, NONE), (X_A, GA_SSP, NONE, NONE), (X_A, GA_TP, GA_TP_SPIKES, NONE),
     (X_A, GA_PDSP, GA_PDSP_SPIKES, GA_PDSP_BAND), (X_A, GA_PDSSP, GA_PDSSP_SPIKES, NONE),
     (X_A, GA_PDSTP, GA_PDSTP_SPIKES, NONE)],
    [(ES_DE_X, ES_DE, ES_DE_SPIKES, ES_DE_BAND), (X_A, ES_LP, NONE, NONE), (X_A, ES_SP, NONE, NONE),
     (X_A, ES_SSP, NONE, NONE), (X_A, ES_TP, NONE, NONE), (X_A, ES_PDSP, ES_PDSP_SPIKES, ES_PDSP_BAND),
     (X_A, ES_PDSSP, ES_PDSSP_SPIKES, ES_PDSSP_BAND), (X_A, ES_PDSTP, ES_PDSTP_SPIKES, ES_PDSTP_BAND)],
    [(PSO_DE_X, PSO_DE, PSO_DE_SPIKES, PSO_DE_BAND),
     (*joined(PSO_LP_EARLY, PSO_LP_TAIL), NONE, NONE),
     (*joined(PSO_SP_EARLY, PSO_SP_TAIL), NONE, NONE),
     (*joined(PSO_SSP_EARLY, PSO_SSP_TAIL), NONE, NONE),
     (*joined(PSO_TP_EARLY, PSO_TP_TAIL), NONE, NONE),
     (*joined(PSO_PDSP_EARLY, PSO_PDSP_TAIL), PSO_PDSP_SPIKES, NONE),
     (*joined(PSO_PDSSP_EARLY, PSO_PDSSP_TAIL), PSO_PDSSP_SPIKES, NONE),
     (*joined(PSO_PDSTP_EARLY, PSO_PDSTP_TAIL), PSO_PDSTP_SPIKES, NONE)],
    [(*joined(DE_DE_EARLY, DE_DE_TAIL), NONE, NONE),
     (*joined(DE_LP_EARLY, DE_LP_TAIL), NONE, NONE),
     (*joined(DE_SP_EARLY, DE_SP_TAIL), NONE, NONE),
     (*joined(DE_SSP_EARLY, DE_SSP_TAIL), NONE, NONE),
     (*joined(DE_TP_EARLY, DE_TP_TAIL), NONE, NONE),
     (*joined(DE_PDSP_EARLY, DE_PDSP_TAIL), DE_PDSP_SPIKES, NONE),
     (*joined(DE_PDSSP_EARLY, DE_PDSSP_TAIL), NONE, NONE),
     (*joined(DE_PDSTP_EARLY, DE_PDSTP_TAIL), NONE, NONE)],
]

# ---------------- layout ----------------
FRAME_W = 102
COL_W = [140, 130, 144, 132, 143, 138, 136, 136]
LEFT_B = [29, 19, 33, 21, 32, 27, 25, 27]
ROW_H = [124, 111, 111, 121]
TOP_B = [33, 20, 20, 20]
BOT_B = [16, 16, 16, 26]

GRID_C = "#c8c8c8"
AX_C = "#6a6a6a"
LBL_C = "#3a3a3a"


def tick_formatter(tick_values, tick_labels):
    return CustomJSTickFormatter(args=dict(tvals=tick_values, tlabels=tick_labels), code="""
        for (let i = 0; i < tvals.length; i++) {
            if (Math.abs(tick - tvals[i]) <= 1e-6 * Math.abs(tvals[i])) { return tlabels[i]; }
        }
        return "";
    """)


def make_panel(r, c):
    lo, hi = Y_RANGES[c]
    p = figure(width=COL_W[c], height=ROW_H[r], x_axis_type="log", y_axis_type="log",
               x_range=(1, 100), y_range=(lo, hi), output_backend="svg", toolbar_location=None,
               min_border_left=LEFT_B[c], min_border_right=COL_W[c] - LEFT_B[c] - FRAME_W,
               min_border_top=TOP_B[r], min_border_bottom=BOT_B[r],
               background_fill_color="white", border_fill_color="white")
    p.outline_line_color = AX_C
    p.outline_line_width = 1

    xt = FixedTicker(ticks=X_TICKS, minor_ticks=X_MINOR)
    yt = FixedTicker(ticks=Y_TICKS[c], minor_ticks=Y_MINOR[c])
    p.xaxis.ticker = xt
    p.yaxis.ticker = yt
    p.xgrid.ticker = xt
    p.ygrid.ticker = yt
    p.xaxis.formatter = tick_formatter(X_TICKS, X_TICK_LABELS)
    p.yaxis.formatter = tick_formatter(Y_TICKS[c], Y_TICK_LABELS[c])

    for g in (p.xgrid, p.ygrid):
        g.grid_line_color = GRID_C
        g.grid_line_width = 0.7
        g.minor_grid_line_color = GRID_C
        g.minor_grid_line_width = 0.7
        g.minor_grid_line_dash = "1 2"

    for ax in (p.xaxis, p.yaxis):
        ax.axis_line_color = AX_C
        ax.major_tick_in = 3
        ax.major_tick_out = 0
        ax.minor_tick_in = 2
        ax.minor_tick_out = 0
        ax.major_tick_line_color = AX_C
        ax.minor_tick_line_color = AX_C
        ax.major_label_text_font = FONT
        ax.major_label_text_font_size = "9.5px"
        ax.major_label_text_color = LBL_C
        ax.major_label_standoff = 3

    if c == 0:
        p.yaxis.axis_label = ALGOS[r]
        p.yaxis.axis_label_text_font = FONT
        p.yaxis.axis_label_text_font_size = "11px"
        p.yaxis.axis_label_text_font_style = "bold"
        p.yaxis.axis_label_text_color = "#111111"
        p.yaxis.axis_label_standoff = 1
    if r == 3:
        p.xaxis.axis_label = "Generation"
        p.xaxis.axis_label_text_font = FONT
        p.xaxis.axis_label_text_font_size = "10px"
        p.xaxis.axis_label_text_font_style = "normal"
        p.xaxis.axis_label_text_color = LBL_C
        p.xaxis.axis_label_standoff = 1

    if Y_EXPONENT[c] or r == 0:
        p.add_layout(Title(text=Y_EXPONENT[c] or " ", align="left", text_font=FONT,
                           text_font_size="8.5px", text_font_style="normal", text_color=LBL_C,
                           standoff=0), "above")
    if r == 0:
        p.add_layout(Title(text=METRICS[c], align="center", text_font=FONT, text_font_size="10.5px",
                           text_font_style="bold", text_color="#111111", standoff=0), "above")

    color = COLORS[r]
    xs, lines, spikes, band = PANELS[r][c]
    if band[0]:
        p.varea(x=band[0], y1=band[1], y2=band[2], fill_color=color, fill_alpha=0.35)
    for ys in lines:
        p.line(xs, ys, line_color=color, line_width=0.75, line_alpha=0.85)
    sx, sb, sp = spikes
    if sx:
        p.multi_line(xs=[[x / 1.03, x, x * 1.03] for x in sx],
                     ys=[[b, t, b] for b, t in zip(sb, sp)],
                     line_color=color, line_width=0.75, line_alpha=0.85)
    return p


rows = [[make_panel(r, c) for c in range(8)] for r in range(4)]
grid = gridplot(rows, toolbar_location=None)

open("out.html", "w").write(file_html(grid, INLINE))
